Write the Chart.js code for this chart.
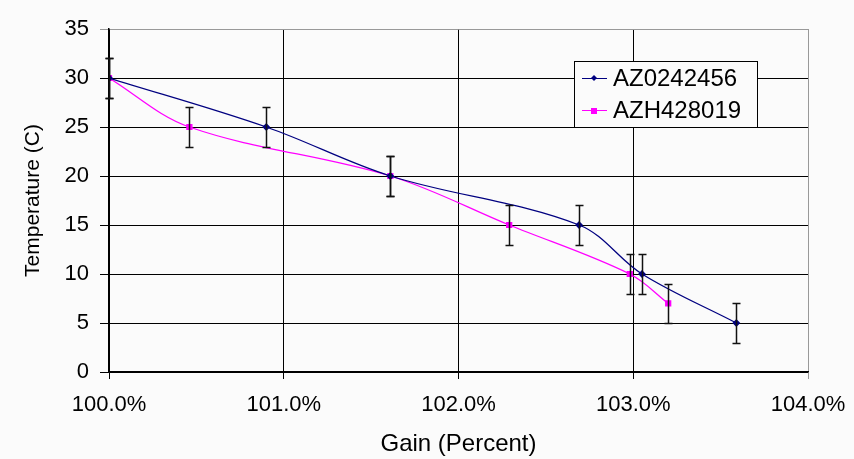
<!DOCTYPE html>
<html lang="en">
<head>
  <meta charset="UTF-8">
  <title>Temperature vs Gain</title>
  <script src="https://cdn.jsdelivr.net/npm/chart.js"></script>
  <style>
    body {
      margin: 0;
      padding: 0;
      background-color: #fbfbfb;
    }
    #chart {
      display: block;
    }
  </style>
</head>
<body>
  <canvas id="chart" width="854" height="459"></canvas>
  <script>
    // series AZ0242456
    const gainA = [100.0, 100.9, 101.61, 102.69, 103.05, 103.59];
    const tempA = [30, 25, 20, 15, 10, 5];
    const errA = [2, 2, 2, 2, 2, 2];
    // series AZH428019
    const gainB = [100.0, 100.46, 101.61, 102.29, 102.98, 103.2];
    const tempB = [30, 25, 20, 15, 10, 7];
    const errB = [2, 2, 2, 2, 2, 2];

    const xTicks = [100, 101, 102, 103, 104];
    const yTicks = [0, 5, 10, 15, 20, 25, 30, 35];

    const FONT = '"Liberation Sans", Arial, sans-serif';

    function toPoints(xs, ys) {
      return xs.map((x, i) => ({ x: x, y: ys[i] }));
    }

    // error bars, drawn through the chart scales
    const errorBars = {
      id: 'errorBars',
      afterDatasetsDraw(chart) {
        const ctx = chart.ctx;
        const xs = chart.scales.x, ys = chart.scales.y;
        ctx.save();
        ctx.strokeStyle = '#111';
        ctx.lineWidth = 1.5;
        chart.data.datasets.forEach(ds => {
          ds.data.forEach((p, i) => {
            const e = ds.errors[i];
            const px = Math.round(xs.getPixelForValue(p.x)) + 0.5;
            const top = Math.round(ys.getPixelForValue(p.y + e)) + 0.5;
            const bot = Math.round(ys.getPixelForValue(p.y - e)) + 0.5;
            ctx.beginPath();
            ctx.moveTo(px, top); ctx.lineTo(px, bot);
            ctx.moveTo(px - 4, top); ctx.lineTo(px + 4, top);
            ctx.moveTo(px - 4, bot); ctx.lineTo(px + 4, bot);
            ctx.stroke();
          });
        });
        ctx.restore();
      }
    };

    // boxed legend inside the plot, like the original
    const boxLegend = {
      id: 'boxLegend',
      afterDraw(chart) {
        const ctx = chart.ctx;
        const x0 = 574, y0 = 61, w = 183, h = 66;
        ctx.save();
        ctx.fillStyle = '#fbfbfb';
        ctx.fillRect(x0, y0, w, h);
        ctx.strokeStyle = '#000';
        ctx.lineWidth = 1;
        ctx.strokeRect(x0 + 0.5, y0 + 0.5, w, h);
        ctx.font = '24px ' + FONT;
        ctx.textBaseline = 'middle';
        chart.data.datasets.forEach((ds, i) => {
          const ly = y0 + 17 + i * 32;
          ctx.strokeStyle = ds.borderColor;
          ctx.lineWidth = 1;
          ctx.beginPath();
          ctx.moveTo(x0 + 8, ly + 0.5); ctx.lineTo(x0 + 33, ly + 0.5);
          ctx.stroke();
          ctx.fillStyle = ds.borderColor;
          if (ds.pointStyle === 'rect') {
            ctx.fillRect(x0 + 17, ly - 2, 6, 6);
          } else {
            ctx.beginPath();
            ctx.moveTo(x0 + 20, ly - 3); ctx.lineTo(x0 + 23, ly);
            ctx.lineTo(x0 + 20, ly + 3); ctx.lineTo(x0 + 17, ly);
            ctx.closePath(); ctx.fill();
          }
          ctx.fillStyle = '#000';
          ctx.fillText(ds.label, x0 + 39, ly + 1);
        });
        ctx.restore();
      }
    };

    const ctx = document.getElementById('chart').getContext('2d');
    new Chart(ctx, {
      type: 'line',
      data: {
        datasets: [
          {
            label: 'AZ0242456',
            data: toPoints(gainA, tempA),
            errors: errA,
            borderColor: '#000080',
            backgroundColor: '#000080',
            borderWidth: 1.3,
            tension: 0.35,
            pointStyle: 'rectRot',
            pointRadius: 3,
            fill: false
          },
          {
            label: 'AZH428019',
            data: toPoints(gainB, tempB),
            errors: errB,
            borderColor: '#ff00ff',
            backgroundColor: '#ff00ff',
            borderWidth: 1.3,
            tension: 0.35,
            pointStyle: 'rect',
            pointRadius: 3.5,
            fill: false
          }
        ]
      },
      options: {
        responsive: false,
        animation: false,
        layout: { padding: { top: 29, right: 46, left: 0, bottom: 0 } },
        plugins: {
          legend: { display: false },
          tooltip: { enabled: false }
        },
        scales: {
          x: {
            type: 'linear',
            min: 100,
            max: 104,
            afterBuildTicks: axis => { axis.ticks = xTicks.map(v => ({ value: v })); },
            afterFit: axis => {
              axis.height = 87;
              axis.paddingLeft = 0;
              axis.paddingRight = 0;
            },
            ticks: {
              color: '#000',
              font: { family: FONT, size: 22 },
              padding: 13,
              maxRotation: 0,
              callback: v => v.toFixed(1) + '%'
            },
            grid: {
              color: c => c.tick && c.tick.value === 104 ? '#999' : '#000',
              lineWidth: 1,
              tickLength: 7
            },
            border: { color: '#000', width: 1.5 },
            title: {
              display: true,
              text: 'Gain (Percent)',
              color: '#000',
              font: { family: FONT, size: 24 },
              padding: { top: 0, bottom: 0 }
            }
          },
          y: {
            min: 0,
            max: 35,
            afterBuildTicks: axis => { axis.ticks = yTicks.map(v => ({ value: v })); },
            afterFit: axis => { axis.width = 109; },
            ticks: {
              color: '#000',
              font: { family: FONT, size: 22 },
              padding: 11
            },
            grid: {
              color: c => c.tick && c.tick.value === 35 ? '#999' : '#000',
              lineWidth: 1,
              tickLength: 9
            },
            border: { color: '#000', width: 1.5 },
            title: {
              display: true,
              text: 'Temperature (C)',
              color: '#000',
              font: { family: FONT, size: 21 },
              padding: { top: 21, bottom: 0 }
            }
          }
        }
      },
      plugins: [errorBars, boxLegend]
    });
  </script>
</body>
</html>
